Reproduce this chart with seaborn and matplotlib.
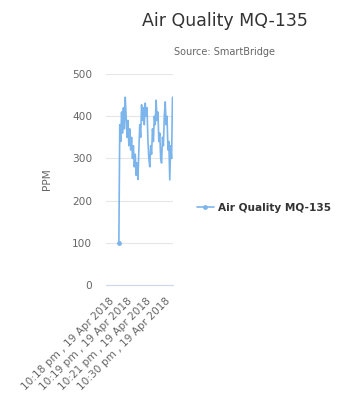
import numpy as np
import pandas as pd
import matplotlib
matplotlib.use("Agg")
import matplotlib.pyplot as plt
import seaborn as sns
from matplotlib.lines import Line2D

# --- Data ---
ppm_values = [100,
              380, 340, 410, 360, 420, 370, 445, 400,
              350, 390, 330, 370, 320, 350, 300, 330, 280, 310, 260, 290, 250,
              320, 380, 350, 427,
              390, 420, 380, 431, 400, 420,
              340, 300, 280,
              330, 310, 370, 340, 400, 380, 438,
              390, 410, 340, 360, 300, 289,
              350, 330, 400, 434,
              380, 400, 320, 340, 249,
              330, 300, 445]
tick_positions = [-11, 9, 30, 51]
tick_labels = ["10:18 pm , 19 Apr 2018", "10:19 pm , 19 Apr 2018",
               "10:21 pm , 19 Apr 2018", "10:30 pm , 19 Apr 2018"]
y_ticks = [0, 100, 200, 300, 400, 500]

series_name = "Air Quality MQ-135"
line_color = "#7cb5ec"

df = pd.DataFrame({"idx": np.arange(len(ppm_values)), "ppm": ppm_values})

sns.set_style("white")
plt.rcParams["font.family"] = ["DejaVu Sans"]

fig = plt.figure(figsize=(3.44, 3.98), dpi=100)
ax = fig.add_axes([0.308, 0.284, 0.195, 0.530])

sns.lineplot(data=df, x="idx", y="ppm", ax=ax, color=line_color, linewidth=1.2,
             marker="o", markersize=3.5, markevery=[0], markeredgewidth=0)

ax.set_xlim(-14.2, 59.6)
ax.set_ylim(0, 500)
ax.set_yticks(y_ticks)
ax.set_yticklabels([str(v) for v in y_ticks], fontsize=7.6, color="#666666")
ax.set_xticks(tick_positions)
ax.set_xticklabels(tick_labels, rotation=45, ha="right", rotation_mode="anchor",
                   fontsize=7.6, color="#666666")
ax.tick_params(axis="y", length=0, pad=10)
ax.tick_params(axis="x", length=4, color="#ccd6eb", pad=4)

ax.grid(True, axis="y", color="#e6e6e6", linewidth=0.8)
ax.set_axisbelow(True)
for side in ["top", "right", "left"]:
    ax.spines[side].set_visible(False)
ax.spines["bottom"].set_color("#ccd6eb")

ax.set_xlabel("")
ax.set_ylabel("PPM", fontsize=7.6, color="#666666")
ax.yaxis.set_label_coords(-0.8, 0.5)

fig.text(0.654, 0.947, "Air Quality MQ-135", ha="center", va="center",
         fontsize=12.5, color="#333333")
fig.text(0.654, 0.869, "Source: SmartBridge", ha="center", va="center",
         fontsize=7, color="#666666")

handle = Line2D([0], [0], color=line_color, linewidth=1.2, marker="o",
                markersize=3.5, markeredgewidth=0)
leg = fig.legend([handle], [series_name], loc="center left",
                 bbox_to_anchor=(0.545, 0.478), frameon=False,
                 handlelength=1.6, handletextpad=0.4,
                 prop={"size": 7.6, "weight": "bold"})
for t in leg.get_texts():
    t.set_color("#333333")

fig.savefig("out.png", dpi=100)
